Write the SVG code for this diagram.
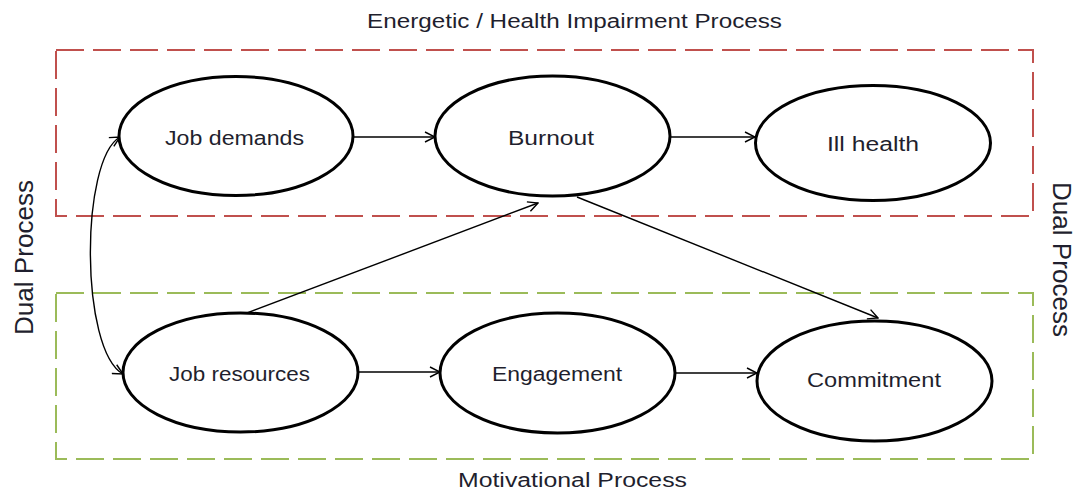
<svg xmlns="http://www.w3.org/2000/svg" width="1078" height="492" viewBox="0 0 1078 492">
<style>
  .bg { fill: #ffffff; }
  .node ellipse { fill: #ffffff; stroke: #000000; stroke-width: 3; }
  .lbl { font-family: "Liberation Sans", Arial, sans-serif; fill: #1f1f2e; text-anchor: middle; }
  .nl { font-size: 20px; }
  .tl { font-size: 20px; }
  .dl { font-size: 25px; }
  .red { fill: none; stroke: #C0504D; stroke-width: 2; stroke-dasharray: 28 9; }
  .green { fill: none; stroke: #9BBB59; stroke-width: 2; stroke-dasharray: 28 9; }
  .conn path, .conn line { fill: none; stroke: #000000; stroke-width: 1.4; }
</style>
<defs>
  <marker id="arr" viewBox="0 0 12 12" refX="11" refY="6" markerWidth="12" markerHeight="12" markerUnits="userSpaceOnUse" orient="auto-start-reverse">
    <path d="M1,1 L11,6 L1,11" fill="none" stroke="#000" stroke-width="1.4"/>
  </marker>
</defs>
<rect class="bg" x="0" y="0" width="1078" height="492"/>

<g id="regions">
  <rect class="red" x="56" y="50" width="977" height="166"/>
  <rect class="green" x="56" y="293" width="977" height="166"/>
</g>

<g id="titles">
  <text class="lbl tl" x="574.5" y="28" textLength="415" lengthAdjust="spacingAndGlyphs">Energetic / Health Impairment Process</text>
  <text class="lbl tl" x="572.5" y="487" textLength="229" lengthAdjust="spacingAndGlyphs">Motivational Process</text>
  <text class="lbl dl" transform="translate(33,257.5) rotate(-90)" x="0" y="0" textLength="155" lengthAdjust="spacingAndGlyphs">Dual Process</text>
  <text class="lbl dl" transform="translate(1053,259.5) rotate(90)" x="0" y="0" textLength="155" lengthAdjust="spacingAndGlyphs">Dual Process</text>
</g>

<g class="conn" id="connectors">
  <line x1="353" y1="137" x2="435" y2="137" marker-end="url(#arr)"/>
  <line x1="670" y1="137" x2="755" y2="137" marker-end="url(#arr)"/>
  <line x1="358" y1="372" x2="440" y2="372" marker-end="url(#arr)"/>
  <line x1="675" y1="373" x2="757" y2="373" marker-end="url(#arr)"/>
  <line x1="247" y1="313" x2="538" y2="203" marker-end="url(#arr)"/>
  <line x1="577" y1="197" x2="878" y2="318" marker-end="url(#arr)"/>
  <path d="M120,137 C80,160 80,350 123,374" marker-start="url(#arr)" marker-end="url(#arr)"/>
</g>

<g class="node" id="job-demands">
  <ellipse cx="236" cy="136" rx="117" ry="59.5"/>
  <text class="lbl nl" x="234.5" y="145" textLength="139" lengthAdjust="spacingAndGlyphs">Job demands</text>
</g>
<g class="node" id="burnout">
  <ellipse cx="552.5" cy="136" rx="117.5" ry="60"/>
  <text class="lbl nl" x="551" y="145" textLength="86" lengthAdjust="spacingAndGlyphs">Burnout</text>
</g>
<g class="node" id="ill-health">
  <ellipse cx="873" cy="143" rx="117.5" ry="57.5"/>
  <text class="lbl nl" x="873" y="151" textLength="92" lengthAdjust="spacingAndGlyphs">Ill health</text>
</g>
<g class="node" id="job-resources">
  <ellipse cx="240.5" cy="372.5" rx="117.5" ry="59.5"/>
  <text class="lbl nl" x="239.5" y="381" textLength="141" lengthAdjust="spacingAndGlyphs">Job resources</text>
</g>
<g class="node" id="engagement">
  <ellipse cx="557.5" cy="373" rx="117.5" ry="60"/>
  <text class="lbl nl" x="557" y="381" textLength="130" lengthAdjust="spacingAndGlyphs">Engagement</text>
</g>
<g class="node" id="commitment">
  <ellipse cx="874.5" cy="381" rx="117.5" ry="60"/>
  <text class="lbl nl" x="874" y="387" textLength="134" lengthAdjust="spacingAndGlyphs">Commitment</text>
</g>
</svg>
